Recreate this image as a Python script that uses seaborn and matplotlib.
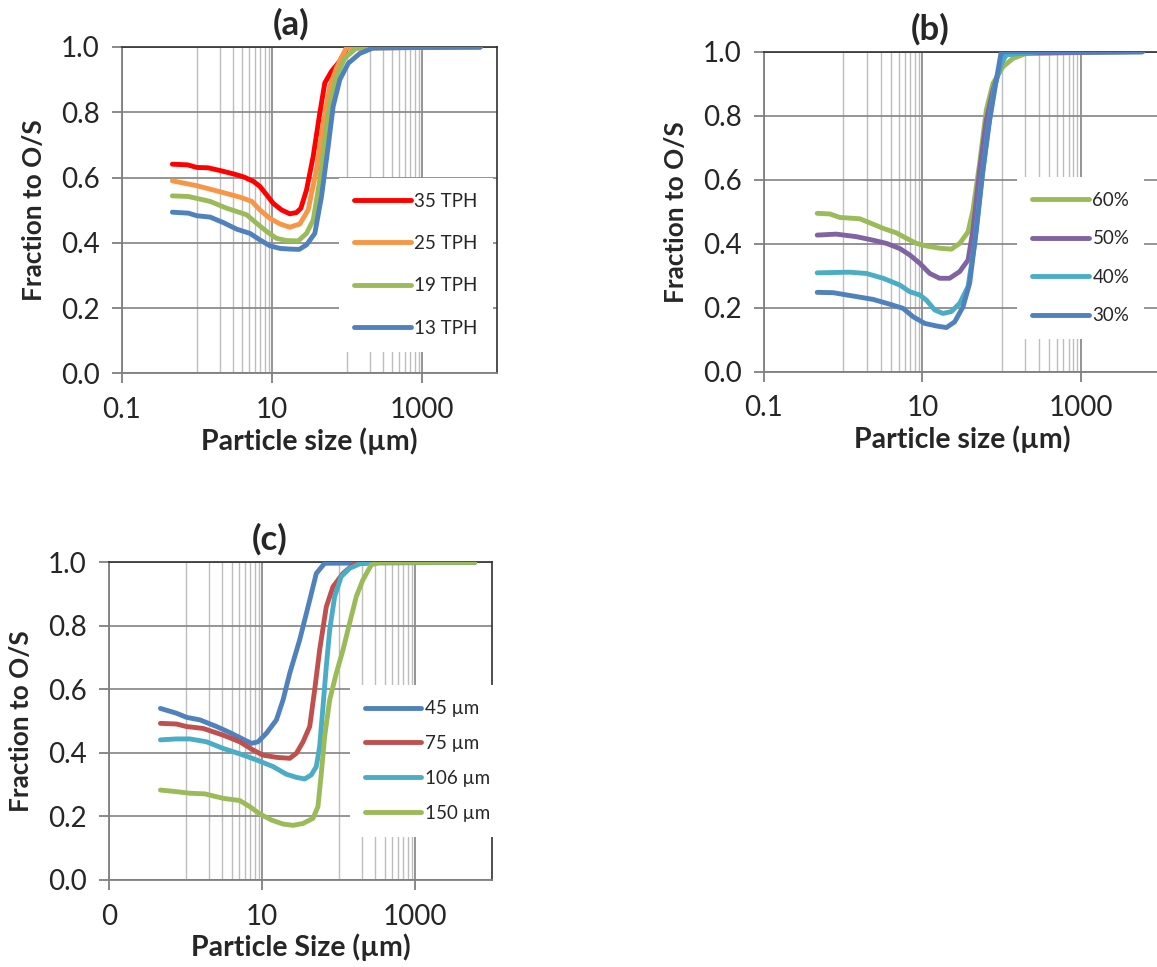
import pandas as pd
import matplotlib.pyplot as plt
import matplotlib.ticker as mticker
import seaborn as sns

# ---- data (particle size in um, fraction to O/S) ----
# (a) feed rate
a_labels = ['35 TPH', '25 TPH', '19 TPH', '13 TPH']
a_colors = ['#FF0000', '#F79646', '#9BBB59', '#4F81BD']
a_x_35 = [0.47, 0.75, 1.0, 1.4, 2.0, 3.1, 4.2, 5.7, 6.9, 8.5, 10.4, 13.4, 17.3, 21.3, 24.3, 28.9, 35.5, 43.5, 50.7, 62, 80, 100, 6000]
a_y_35 = [0.641, 0.639, 0.631, 0.630, 0.622, 0.611, 0.602, 0.588, 0.573, 0.547, 0.521, 0.501, 0.489, 0.493, 0.506, 0.562, 0.665, 0.798, 0.890, 0.925, 0.956, 0.997, 1.0]
a_x_25 = [0.47, 1.0, 2.0, 3.75, 5.4, 6.9, 9.4, 12.8, 17.3, 23.6, 30.4, 39.3, 48.2, 59.2, 72.5, 98, 6000]
a_y_25 = [0.590, 0.575, 0.557, 0.540, 0.527, 0.501, 0.475, 0.458, 0.448, 0.458, 0.501, 0.624, 0.767, 0.879, 0.936, 0.997, 1.0]
a_x_19 = [0.47, 0.77, 1.5, 2.5, 4.6, 6.25, 8.5, 11.5, 15.7, 22.4, 28.9, 35.5, 43.5, 50.7, 59.2, 72.5, 93.5, 134, 6000]
a_y_19 = [0.544, 0.542, 0.527, 0.506, 0.486, 0.460, 0.435, 0.414, 0.407, 0.406, 0.429, 0.470, 0.593, 0.716, 0.828, 0.910, 0.966, 0.997, 1.0]
a_x_13 = [0.47, 0.77, 1.0, 1.5, 2.25, 3.39, 5.1, 6.92, 9.4, 12.8, 17.3, 23.1, 28.9, 37.3, 45.8, 56.2, 65.5, 80.4, 104, 148, 223, 6000]
a_y_13 = [0.494, 0.491, 0.483, 0.479, 0.462, 0.442, 0.429, 0.409, 0.391, 0.383, 0.381, 0.380, 0.394, 0.429, 0.542, 0.695, 0.818, 0.900, 0.950, 0.980, 0.997, 1.0]

# (b) solids
b_labels = ['60%', '50%', '40%', '30%']
b_colors = ['#9BBB59', '#8064A2', '#4BACC6', '#4F81BD']
b_x_60 = [0.47, 0.68, 0.91, 1.62, 2.39, 3.19, 4.7, 6.28, 8.4, 11.2, 16.5, 23.2, 29.6, 37.7, 43.5, 52.8, 64.1, 77.8, 104, 139, 205, 6000]
b_y_60 = [0.495, 0.493, 0.482, 0.478, 0.461, 0.448, 0.434, 0.417, 0.401, 0.393, 0.386, 0.383, 0.401, 0.437, 0.505, 0.651, 0.818, 0.901, 0.953, 0.979, 0.995, 1.0]
b_x_50 = [0.47, 0.82, 1.47, 2.39, 3.52, 5.18, 6.92, 9.25, 12.4, 16.5, 22.1, 29.6, 37.7, 43.5, 52.8, 64.1, 77.8, 99, 115, 6000]
b_y_50 = [0.427, 0.430, 0.422, 0.411, 0.401, 0.385, 0.365, 0.339, 0.307, 0.292, 0.292, 0.313, 0.349, 0.443, 0.630, 0.786, 0.880, 0.964, 0.995, 1.0]
b_x_40 = [0.47, 0.75, 1.21, 1.97, 3.19, 5.18, 6.92, 9.25, 11.2, 14.3, 18.2, 23.2, 29.6, 37.7, 45.7, 55.5, 67.3, 81.6, 99, 115, 300, 6000]
b_y_40 = [0.309, 0.310, 0.311, 0.307, 0.292, 0.271, 0.250, 0.240, 0.224, 0.193, 0.182, 0.188, 0.214, 0.266, 0.401, 0.589, 0.755, 0.891, 0.964, 0.990, 1.0, 1.0]
b_x_30 = [0.47, 0.75, 1.10, 2.39, 3.87, 5.7, 7.62, 10.7, 15.0, 20.1, 25.6, 32.6, 39.5, 48, 58.2, 70.6, 85.7, 99, 6000]
b_y_30 = [0.248, 0.247, 0.240, 0.226, 0.211, 0.198, 0.172, 0.151, 0.143, 0.138, 0.156, 0.203, 0.276, 0.443, 0.630, 0.786, 0.911, 1.0, 1.0]

# (c) cut size
c_labels = ['45 µm', '75 µm', '106 µm', '150 µm']
c_colors = ['#4F81BD', '#C0504D', '#4BACC6', '#9BBB59']
c_x_45 = [0.47, 0.76, 1.03, 1.54, 2.54, 3.79, 5.65, 7.26, 8.87, 11.4, 15.4, 18.8, 23.0, 31.0, 41.9, 51.1, 65.6, 6000]
c_y_45 = [0.540, 0.525, 0.512, 0.504, 0.483, 0.464, 0.443, 0.430, 0.435, 0.462, 0.504, 0.567, 0.651, 0.756, 0.881, 0.965, 0.997, 1.0]
c_x_75 = [0.47, 0.76, 1.03, 1.70, 3.10, 5.11, 7.64, 10.3, 15.4, 23.0, 28.1, 34.3, 41.9, 48.6, 56.5, 69.0, 84.3, 114, 154, 188, 6000]
c_y_75 = [0.493, 0.491, 0.483, 0.477, 0.456, 0.435, 0.409, 0.393, 0.386, 0.383, 0.399, 0.435, 0.483, 0.598, 0.724, 0.860, 0.923, 0.965, 0.992, 0.999, 1.0]
c_x_106 = [0.47, 0.76, 1.14, 1.88, 3.10, 5.11, 8.43, 13.9, 20.7, 28.1, 36.0, 44.0, 51.1, 56.5, 62.5, 69.0, 76.4, 88.7, 108, 139, 188, 343, 6000]
c_y_106 = [0.441, 0.444, 0.444, 0.435, 0.414, 0.397, 0.378, 0.357, 0.333, 0.323, 0.318, 0.331, 0.357, 0.420, 0.546, 0.672, 0.787, 0.892, 0.955, 0.981, 0.995, 1.0, 1.0]
c_x_150 = [0.47, 0.76, 1.14, 1.79, 3.10, 5.11, 6.9, 9.33, 13.2, 18.8, 25.4, 34.3, 46.2, 53.7, 59.4, 65.6, 76.4, 93.3, 114, 139, 170, 207, 267, 343, 6000]
c_y_150 = [0.283, 0.278, 0.273, 0.271, 0.257, 0.250, 0.231, 0.208, 0.189, 0.176, 0.172, 0.178, 0.194, 0.231, 0.336, 0.451, 0.567, 0.651, 0.724, 0.808, 0.892, 0.944, 0.992, 1.0, 1.0]

x_major = [0.1, 10, 1000]
x_minor = [1, 2, 3, 4, 5, 6, 7, 8, 9, 100, 200, 300, 400, 500, 600, 700, 800, 900]


def long_df(xs, ys, labels):
    parts = []
    for x, y, lab in zip(xs, ys, labels):
        parts.append(pd.DataFrame({'size': x, 'frac': y, 'series': lab}))
    return pd.concat(parts, ignore_index=True)


sns.set_style('white')
plt.rcParams['font.family'] = ['Lato', 'DejaVu Sans']

fig = plt.figure(figsize=(11.57, 9.67), dpi=100)

# title, axes rect, data, labels, colours, x tick labels, x label, legend anchor, legend spacing, title x
panels = [
    ('(a)', [0.1054, 0.6138, 0.3241, 0.3376], long_df([a_x_35, a_x_25, a_x_19, a_x_13], [a_y_35, a_y_25, a_y_19, a_y_13], a_labels),
     a_labels, a_colors, ['0.1', '10', '1000'], 'Particle size (µm)', (0.58, 0.60), 1.35, 0.45),
    ('(b)', [0.6603, 0.6156, 0.3423, 0.3309], long_df([b_x_60, b_x_50, b_x_40, b_x_30], [b_y_60, b_y_50, b_y_40, b_y_30], b_labels),
     b_labels, b_colors, ['0.1', '10', '1000'], 'Particle size (µm)', (0.64, 0.61), 1.15, 0.42),
    ('(c)', [0.0942, 0.0900, 0.3308, 0.3285], long_df([c_x_45, c_x_75, c_x_106, c_x_150], [c_y_45, c_y_75, c_y_106, c_y_150], c_labels),
     c_labels, c_colors, ['0', '10', '1000'], 'Particle Size (µm)', (0.63, 0.613), 0.95, 0.42),
]

for title, rect, df, labels, colors, xt_labels, xlab, leg_pos, leg_sp, tx in panels:
    ax = fig.add_axes(rect)
    sns.lineplot(data=df, x='size', y='frac', hue='series', hue_order=labels,
                 palette=colors, linewidth=3.5, sort=False, ax=ax,
                 solid_capstyle='round', zorder=3)
    ax.set_xscale('log')
    ax.set_xlim(0.1, 10000)
    ax.set_ylim(0, 1.0)
    ax.xaxis.set_major_locator(mticker.FixedLocator(x_major))
    ax.xaxis.set_minor_locator(mticker.FixedLocator(x_minor))
    ax.set_xticklabels(xt_labels)
    ax.xaxis.set_minor_formatter(mticker.NullFormatter())
    ax.set_yticks([0, 0.2, 0.4, 0.6, 0.8, 1.0])
    ax.set_yticklabels(['0.0', '0.2', '0.4', '0.6', '0.8', '1.0'])

    ax.grid(which='major', axis='x', color='#8c8c8c', linewidth=1.3)
    ax.grid(which='minor', axis='x', color='#bdbdbd', linewidth=1.0)
    ax.grid(which='major', axis='y', color='#8c8c8c', linewidth=1.3)
    ax.set_axisbelow(True)

    for side in ['left', 'bottom']:
        ax.spines[side].set_color('#7f7f7f')
        ax.spines[side].set_linewidth(1.3)
    for side in ['top', 'right']:
        ax.spines[side].set_color('#303030')
        ax.spines[side].set_linewidth(1.2)

    ax.tick_params(axis='both', which='major', direction='out', length=7, width=1.3,
                   color='#7f7f7f', labelsize=20, left=True, bottom=True)
    ax.tick_params(axis='x', which='major', pad=10)
    ax.tick_params(axis='y', which='major', pad=9)
    ax.tick_params(axis='x', which='minor', length=0)

    ax.set_title(title, fontsize=25, fontweight='bold', x=tx, pad=9)
    ax.set_xlabel(xlab, fontsize=20.5, fontweight='bold', labelpad=3)
    ax.set_ylabel('Fraction to O/S', fontsize=18.8, fontweight='bold', labelpad=11)

    handles, labs = ax.get_legend_handles_labels()
    leg = ax.legend(handles, labs, loc='upper left', bbox_to_anchor=leg_pos,
                    frameon=True, fancybox=False, facecolor='white', edgecolor='none',
                    framealpha=1, fontsize=13.5, handlelength=3.0, handletextpad=0.2,
                    labelspacing=leg_sp, borderpad=0.8, borderaxespad=0)
    leg.set_zorder(2.5)
    for h in leg.get_lines():
        h.set_linewidth(3.5)

plt.savefig('out.png', dpi=100)
